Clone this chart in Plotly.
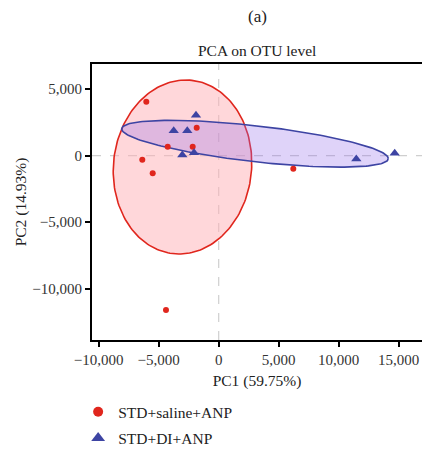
import numpy as np
import plotly.graph_objects as go

# ---- data ----
saline_x = [-6033, -1833, -4250, -2167, -6367, -5500, 6217, -4392]
saline_y = [4060, 2105, 677, 677, -300, -1323, -977, -11600]
di_x = [-1892, -3750, -2617, -3033, -2058, 11467, 14667]
di_y = [3038, 1880, 1880, 53, 226, -248, 180]

# ellipse parameters: centre, and two conjugate semi-diameters (data units)
saline_ell_center = [-3017, -850]
saline_ell_a = [5767, 0]
saline_ell_b = [275, 6541]
di_ell_center = [3025, 902]
di_ell_a = [11108, -1098]
di_ell_b = [-167, 1376]

x_tickvals = [-10000, -5000, 0, 5000, 10000, 15000]
x_ticktext = ["\u221210,000", "\u22125,000", "0", "5,000", "10,000", "15,000"]
y_tickvals = [5000, 0, -5000, -10000]
y_ticktext = ["5,000", "0", "\u22125,000", "\u221210,000"]

series_names = ["STD+saline+ANP", "STD+DI+ANP"]

RED = "#e0261d"
BLUE = "#3d44a3"
FONT = "Liberation Serif"


def ellipse(center, a, b, n=200):
    t = np.linspace(0, 2 * np.pi, n)
    x = center[0] + a[0] * np.cos(t) + b[0] * np.sin(t)
    y = center[1] + a[1] * np.cos(t) + b[1] * np.sin(t)
    return x, y


fig = go.Figure()

ex, ey = ellipse(saline_ell_center, saline_ell_a, saline_ell_b)
fig.add_trace(go.Scatter(x=ex, y=ey, mode="lines", fill="toself",
                         fillcolor="rgba(255,175,182,0.5)",
                         line=dict(color=RED, width=1.6), showlegend=False,
                         hoverinfo="skip"))
ex, ey = ellipse(di_ell_center, di_ell_a, di_ell_b)
fig.add_trace(go.Scatter(x=ex, y=ey, mode="lines", fill="toself",
                         fillcolor="rgba(150,110,235,0.3)",
                         line=dict(color=BLUE, width=1.6), showlegend=False,
                         hoverinfo="skip"))

fig.add_trace(go.Scatter(x=saline_x, y=saline_y, mode="markers", name=series_names[0],
                         showlegend=False,
                         marker=dict(symbol="circle", size=6, color=RED)))
fig.add_trace(go.Scatter(x=di_x, y=di_y, mode="markers", name=series_names[1],
                         showlegend=False,
                         marker=dict(symbol="triangle-up", size=9, color=BLUE)))

# legend entries (larger symbols, as in the reference key)
fig.add_trace(go.Scatter(x=[None], y=[None], mode="markers", name=series_names[0],
                         legendgroup="g1",
                         marker=dict(symbol="circle", size=10, color=RED)))
fig.add_trace(go.Scatter(x=[None], y=[None], mode="markers", name=series_names[1],
                         legendgroup="g2",
                         marker=dict(symbol="triangle-up", size=12, color=BLUE)))

fig.add_shape(type="line", xref="x", yref="paper", x0=0, x1=0, y0=0, y1=1,
              line=dict(color="#cfcfcf", width=1.2, dash="dash"), layer="below")
fig.add_shape(type="line", xref="paper", yref="y", x0=0, x1=1, y0=0, y1=0,
              line=dict(color="#cfcfcf", width=1.2, dash="dash"), layer="below")

fig.update_layout(
    width=422, height=449,
    margin=dict(l=92, r=0, t=64, b=109, autoexpand=False),
    paper_bgcolor="white", plot_bgcolor="white",
    font=dict(family=FONT, size=15, color="#222222"),
    showlegend=True,
    legend=dict(x=-0.042, y=-0.2, xanchor="left", yanchor="top",
                font=dict(family=FONT, size=15.5, color="#222222"),
                traceorder="grouped", tracegroupgap=3,
                bgcolor="rgba(0,0,0,0)"),
    annotations=[
        dict(text="(a)", xref="paper", yref="paper", x=0.5, y=1.0,
             yshift=48, xanchor="center", yanchor="middle", showarrow=False,
             font=dict(family=FONT, size=17, color="#222222")),
        dict(text="PCA on OTU level", xref="paper", yref="paper", x=0.5, y=1.0,
             yshift=14, xanchor="center", yanchor="middle", showarrow=False,
             font=dict(family=FONT, size=15.5, color="#222222")),
    ],
)

fig.update_xaxes(range=[-10558, 16942], tickvals=x_tickvals, ticktext=x_ticktext,
                 automargin=False,
                 showgrid=False, zeroline=False, showline=True, linecolor="black",
                 linewidth=2, mirror=True, ticks="outside", ticklen=5, tickwidth=2,
                 tickcolor="black", tickfont=dict(family=FONT, size=15, color="#333333"),
                 title=dict(text="PC1 (59.75%)", standoff=8,
                            font=dict(family=FONT, size=15.5, color="#222222")))
fig.update_yaxes(range=[-13857, 6895], tickvals=y_tickvals, ticktext=y_ticktext,
                 automargin=False,
                 showgrid=False, zeroline=False, showline=True, linecolor="black",
                 linewidth=2, mirror=False, ticks="outside", ticklen=5, tickwidth=2,
                 tickcolor="black", tickfont=dict(family=FONT, size=15, color="#333333"),
                 title=dict(text="PC2 (14.93%)", standoff=2,
                            font=dict(family=FONT, size=15.5, color="#222222")))

# remove the page's default body margin so the figure fills the window exactly
fig.write_html("out.html", config={"displayModeBar": False},
               post_script="document.body.style.margin='0';document.body.style.overflow='hidden';")
